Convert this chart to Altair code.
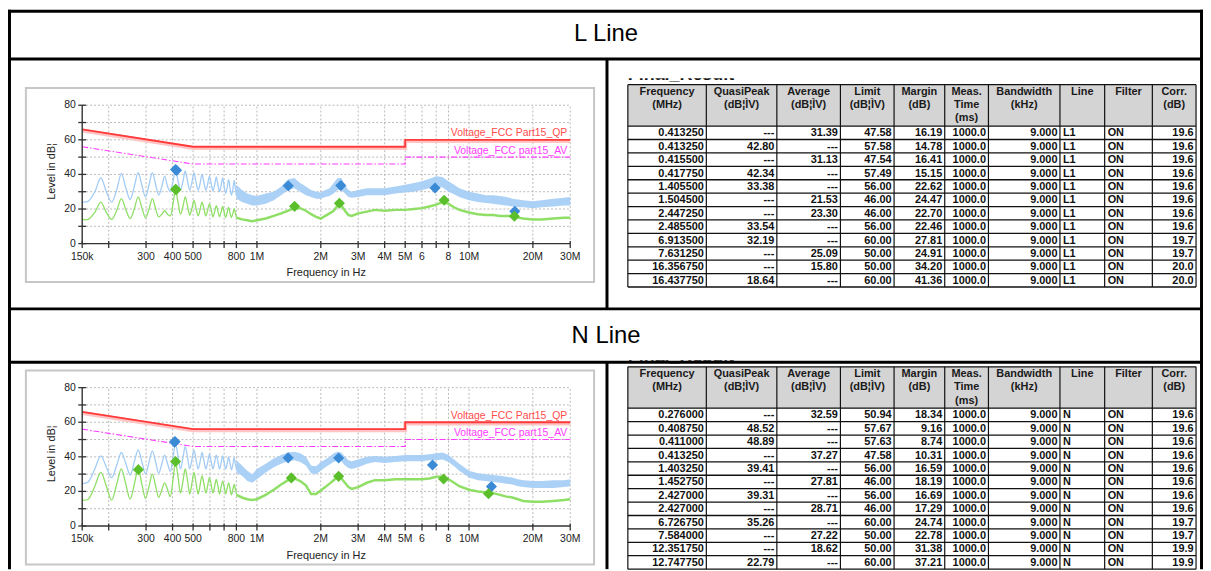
import altair as alt
import pandas as pd

# ====================== DATA ======================
# low-frequency part of the spectra (harmonic peaks), frequency in MHz
LOW_F = [0.150, 0.160, 0.172, 0.1836, 0.195, 0.2065, 0.218, 0.2295, 0.241, 0.2525,
         0.264, 0.2754, 0.287, 0.2984, 0.310, 0.3213, 0.333, 0.3443, 0.356, 0.3672,
         0.379, 0.3902, 0.402, 0.4131, 0.425, 0.4361, 0.448, 0.459, 0.471, 0.482,
         0.494, 0.505, 0.516, 0.528, 0.540, 0.551, 0.563, 0.574, 0.586, 0.597,
         0.609, 0.620, 0.632, 0.643, 0.655, 0.666, 0.678, 0.689, 0.701, 0.712,
         0.724, 0.735, 0.747, 0.758, 0.770, 0.781, 0.793, 0.800]

L_PK_LOW = [24, 24.5, 30, 38, 30, 24, 31, 40.5, 32, 25.5,
            33, 41, 33.5, 27, 34, 41, 34, 28, 33, 39,
            33, 30, 36, 42.5, 36, 31, 36, 42, 36, 31,
            35.5, 41, 35.5, 31, 35, 40, 35, 31, 34.5, 39,
            34.5, 30.5, 34, 38.5, 34, 30, 33.5, 38, 33, 29,
            32.5, 37, 32, 28, 31.5, 36.5, 31, 28]
L_AV_LOW = [14, 14, 18, 24, 18, 14, 19, 26, 19.5, 14.5,
            20, 27, 20.5, 15, 20, 26, 20, 15.5, 17, 19,
            17, 16, 23, 31, 23.5, 17, 21.5, 27, 21.5, 16.5,
            20.5, 25, 20.5, 16, 20, 24, 20, 16, 19.5, 23,
            19.5, 15.5, 18.5, 22, 18.5, 15.5, 18.5, 21.5, 18, 15,
            18, 21, 17.5, 15, 17.5, 20, 17, 15]
N_PK_LOW = [24.5, 25.5, 33, 40.5, 34, 28, 35, 42.5, 36, 29.5,
            37, 44, 37, 30, 37, 43.5, 37, 30.5, 36, 41,
            36, 31.5, 40, 47.5, 40, 33, 39.5, 46, 39.5, 33,
            38.5, 44, 38.5, 33, 37.5, 42.5, 37.5, 33, 37, 41.5,
            37, 33, 37, 41, 37, 33, 36.5, 40.5, 36.5, 33,
            36, 40, 36, 32.5, 35.5, 39.5, 35, 33]
N_AV_LOW = [15, 15.5, 23, 31, 23, 15, 24, 33, 24, 15.5,
            24, 33, 24, 16, 23, 30, 23, 16.5, 21, 25,
            21, 17, 27, 37, 28, 19, 26, 33, 26, 18.5,
            25, 31, 25, 18.5, 24, 29, 24, 19, 23.5, 28,
            23.5, 19, 23, 27, 23, 18.5, 22.5, 26, 22.5, 18.5,
            22, 25, 21.5, 18, 21, 24, 21, 18.5]

# high-frequency part (noisy band), frequency in MHz
HIGH_F = [0.80, 0.85, 0.90, 0.95, 1.0, 1.1, 1.2, 1.3, 1.4, 1.5,
          1.6, 1.7, 1.8, 1.9, 2.0, 2.1, 2.2, 2.3, 2.4, 2.5,
          2.6, 2.7, 2.8, 3.0, 3.3, 3.6, 4.0, 4.5, 5.0, 5.5,
          6.0, 6.5, 7.0, 7.5, 8.0, 8.5, 9.0, 10, 11, 12,
          13, 14, 15, 16, 17, 18, 20, 22, 25, 28, 30]
L_PK_HI_LO = [26, 24, 23, 22, 22, 23, 25, 28, 31, 32,
              30, 28, 27, 26, 26, 27, 27.5, 29, 31, 31,
              29, 27, 26.5, 27, 28, 28, 28, 29, 29.5, 30,
              31, 32, 33, 32.5, 30, 28.5, 27, 25, 24, 23.5,
              23, 22.5, 22, 21.5, 21, 21, 20.5, 21, 21.5, 22, 22]
L_PK_HI_UP = [34, 31, 29, 28, 27.5, 29, 30, 33, 37, 38,
              35, 33, 31, 30, 29.5, 31, 32, 35, 38, 38,
              34, 31, 30, 31, 32, 32, 32, 33, 34, 35,
              36, 37.5, 39, 38.5, 36, 34, 32, 30, 29, 28,
              28, 27.5, 27, 26, 25.5, 25, 24.5, 25, 26, 26.5, 27]
L_AV_HI = [15, 14, 13.5, 13, 13.5, 14.5, 16, 17.5, 19, 20.5,
           20.5, 19, 17, 15.5, 14.5, 16, 17.5, 19, 22, 22,
           19, 16.5, 16, 17.5, 18.5, 19.5, 19, 19.5, 19.5, 20,
           20.5, 21.5, 22.5, 24, 23, 21, 19.5, 18, 17, 16.5,
           16.5, 16, 16, 16, 15, 14.5, 14, 14, 14.5, 15, 15]
N_PK_HI_LO = [31, 29, 26, 25, 27, 31, 34, 36, 37.5, 38,
              37, 35, 30.5, 30, 32, 34, 35.5, 37, 38, 37.5,
              35, 33.5, 33, 34, 36, 37, 36.5, 37, 37.5, 37.5,
              37.5, 38, 38, 38.5, 37, 34.5, 32, 28, 26.5, 26,
              25.5, 25, 24.5, 24, 23, 22.5, 22, 22, 22, 22.5, 23]
N_PK_HI_UP = [38, 35, 32, 30, 33, 36, 39, 41, 42.5, 43,
              42, 40, 35, 34.5, 37, 38.5, 40, 42, 43, 42.5,
              40, 38, 37.5, 38.5, 40, 40.5, 40, 40.5, 41, 41,
              41, 41.5, 42, 42.5, 41, 38.5, 36, 32, 30.5, 30,
              29.5, 29, 28.5, 28, 27, 26.5, 26, 26, 26.5, 26.5, 27]
N_AV_HI = [18, 16.5, 15.5, 15, 15.5, 18, 21, 24, 26.5, 27.5,
           26, 23.5, 18.5, 18.5, 20.5, 22.5, 24.5, 26.5, 28.5, 27.5,
           25, 22.5, 21.5, 22.5, 25, 26.5, 26.5, 27, 27, 27,
           27, 27.5, 28.5, 28.5, 27, 25, 23, 21, 20, 19.5,
           19, 18, 17, 16.5, 15.5, 14.5, 14, 14, 14.5, 15, 15.5]

# limit lines
LIM_F = [0.15, 0.5, 5, 5, 30]
QP_LIM = [66, 56, 56, 60, 60]
AV_LIM = [56, 46, 46, 50, 50]

# axis ticks
X_TICKS = [0.15, 0.2, 0.3, 0.4, 0.5, 0.6, 0.7, 0.8, 1, 2, 3, 4, 5, 6, 7, 8, 10, 20, 30]
X_LABELS = ["150k", "", "300", "400", "500", "", "", "800", "1M", "2M", "3M", "4M",
            "5M", "6", "", "8", "10M", "20M", "30M"]
Y_TICKS = [0, 10, 20, 30, 40, 50, 60, 70, 80]
Y_LABELS = ["0", "", "20", "", "40", "", "60", "", "80"]

# tables
HEADERS = [["Frequency", "(MHz)"], ["QuasiPeak", "(dB¦ÌV)"], ["Average", "(dB¦ÌV)"],
           ["Limit", "(dB¦ÌV)"], ["Margin", "(dB)"], ["Meas.", "Time", "(ms)"],
           ["Bandwidth", "(kHz)"], ["Line"], ["Filter"], ["Corr.", "(dB)"]]

L_FREQ = ["0.413250", "0.413250", "0.415500", "0.417750", "1.405500", "1.504500",
          "2.447250", "2.485500", "6.913500", "7.631250", "16.356750", "16.437750"]
L_QP = ["---", "42.80", "---", "42.34", "33.38", "---", "---", "33.54", "32.19", "---", "---", "18.64"]
L_AV = ["31.39", "---", "31.13", "---", "---", "21.53", "23.30", "---", "---", "25.09", "15.80", "---"]
L_LIMIT = ["47.58", "57.58", "47.54", "57.49", "56.00", "46.00", "46.00", "56.00", "60.00", "50.00", "50.00", "60.00"]
L_MARGIN = ["16.19", "14.78", "16.41", "15.15", "22.62", "24.47", "22.70", "22.46", "27.81", "24.91", "34.20", "41.36"]
L_MEAS = ["1000.0"] * 12
L_BW = ["9.000"] * 12
L_LINE = ["L1"] * 12
L_FILTER = ["ON"] * 12
L_CORR = ["19.6"] * 8 + ["19.7", "19.7", "20.0", "20.0"]

N_FREQ = ["0.276000", "0.408750", "0.411000", "0.413250", "1.403250", "1.452750",
          "2.427000", "2.427000", "6.726750", "7.584000", "12.351750", "12.747750"]
N_QP = ["---", "48.52", "48.89", "---", "39.41", "---", "39.31", "---", "35.26", "---", "---", "22.79"]
N_AV = ["32.59", "---", "---", "37.27", "---", "27.81", "---", "28.71", "---", "27.22", "18.62", "---"]
N_LIMIT = ["50.94", "57.67", "57.63", "47.58", "56.00", "46.00", "56.00", "46.00", "60.00", "50.00", "50.00", "60.00"]
N_MARGIN = ["18.34", "9.16", "8.74", "10.31", "16.59", "18.19", "16.69", "17.29", "24.74", "22.78", "31.38", "37.21"]
N_MEAS = ["1000.0"] * 12
N_BW = ["9.000"] * 12
N_LINE = ["N"] * 12
N_FILTER = ["ON"] * 12
N_CORR = ["19.6"] * 8 + ["19.7", "19.7", "19.9", "19.9"]

for arr in (L_PK_LOW, L_AV_LOW, N_PK_LOW, N_AV_LOW):
    assert len(arr) == len(LOW_F)
for arr in (L_PK_HI_LO, L_PK_HI_UP, L_AV_HI, N_PK_HI_LO, N_PK_HI_UP, N_AV_HI):
    assert len(arr) == len(HIGH_F)

# ====================== LAYOUT / STYLE ======================
W, H = 1203, 563
FONT = "Arial, Liberation Sans, sans-serif"
PX0, PX1 = 74.7, 566.0
PLOT_H = 139.3
PLOT_TOPS = [96.0, 380.3]
COL_EDGES = [624, 703, 774, 838, 892, 943, 987, 1059, 1104, 1152, 1196]
TABLE_TOPS = [75.3, 359.3]
HEADER_H = 41.7
ROW_H = 13.5
BLUE_TR, GREEN_TR = "#a3ccf5", "#8fdf66"
BLUE_MK, GREEN_MK = "#3a8ad6", "#5abf2b"


def xs():
    return alt.Scale(type="log", domain=[0.15, 30], range=[PX0, PX1], nice=False)


def ys(top):
    return alt.Scale(domain=[0, 80], range=[top + PLOT_H, top], nice=False, zero=False)


def PXX(f):
    return alt.X(f"{f}:Q", scale=None)


def PXY(f):
    return alt.Y(f"{f}:Q", scale=None)


def plot_layers(top, pk_low, av_low, pk_lo, pk_up, av_hi, freq, qp, av):
    bottom = top + PLOT_H

    def X(f):
        return alt.X(f"{f}:Q", scale=xs(), axis=None)

    def Y(f):
        return alt.Y(f"{f}:Q", scale=ys(top), axis=None)

    L = []
    box = pd.DataFrame({"x": [18], "x2": [590], "y": [top - 17.3], "y2": [bottom + 38.7]})
    L.append(alt.Chart(box).mark_rect(fill="white", stroke="#c6c6c6", strokeWidth=2).encode(
        x=PXX("x"), x2=alt.X2("x2"), y=PXY("y"), y2=alt.Y2("y2")))

    vg = pd.DataFrame({"f": X_TICKS[1:], "a": 0, "b": 80})
    L.append(alt.Chart(vg).mark_rule(color="#b9b9b9", strokeWidth=1, strokeDash=[2, 2]).encode(
        x=X("f"), y=Y("a"), y2=alt.Y2("b")))
    hg = pd.DataFrame({"v": Y_TICKS[1:], "f0": 0.15, "f1": 30})
    L.append(alt.Chart(hg).mark_rule(color="#b9b9b9", strokeWidth=1, strokeDash=[2, 2]).encode(
        x=X("f0"), x2=alt.X2("f1"), y=Y("v")))

    lim = pd.DataFrame({"i": range(len(LIM_F)), "f": LIM_F, "qp": QP_LIM, "av": AV_LIM})
    L.append(alt.Chart(lim).mark_line(color="#ffc4c4", strokeWidth=4, yOffset=1.2).encode(
        x=X("f"), y=Y("qp"), order="i:Q"))
    L.append(alt.Chart(lim).mark_line(color="#ff3a3a", strokeWidth=1.8).encode(
        x=X("f"), y=Y("qp"), order="i:Q"))
    L.append(alt.Chart(lim).mark_line(color="#ff3cff", strokeWidth=1.1, strokeDash=[6, 2, 1.5, 2]).encode(
        x=X("f"), y=Y("av"), order="i:Q"))
    lab = pd.DataFrame({"f": [30], "qp": [60], "av": [50]})
    L.append(alt.Chart(lab).mark_text(text="Voltage_FCC Part15_QP", align="right", baseline="middle",
                                      font=FONT, fontSize=10.5, color="#ff4d4d", xOffset=-3, yOffset=-6.5).encode(
        x=X("f"), y=Y("qp")))
    L.append(alt.Chart(lab).mark_text(text="Voltage_FCC part15_AV", align="right", baseline="middle",
                                      font=FONT, fontSize=10.5, color="#ff3cff", xOffset=-3, yOffset=-6.5).encode(
        x=X("f"), y=Y("av")))

    low = pd.DataFrame({"f": LOW_F, "pk": pk_low, "av": av_low})
    hi = pd.DataFrame({"f": HIGH_F, "lo": pk_lo, "up": pk_up, "av": av_hi})
    L.append(alt.Chart(low).mark_line(color=BLUE_TR, strokeWidth=1.3, interpolate="catmull-rom").encode(
        x=X("f"), y=Y("pk")))
    L.append(alt.Chart(hi).mark_area(color=BLUE_TR, opacity=0.9, interpolate="linear").encode(
        x=X("f"), y=Y("lo"), y2=alt.Y2("up")))
    L.append(alt.Chart(low).mark_line(color=GREEN_TR, strokeWidth=1.3, interpolate="catmull-rom").encode(
        x=X("f"), y=Y("av")))
    L.append(alt.Chart(hi).mark_line(color=GREEN_TR, strokeWidth=2.5).encode(
        x=X("f"), y=Y("av")))

    qpm = pd.DataFrame([(float(f), float(q)) for f, q in zip(freq, qp) if q != "---"], columns=["f", "v"])
    avm = pd.DataFrame([(float(f), float(a)) for f, a in zip(freq, av) if a != "---"], columns=["f", "v"])
    L.append(alt.Chart(qpm).mark_point(shape="diamond", filled=True, size=125, color=BLUE_MK, opacity=1).encode(
        x=X("f"), y=Y("v")))
    L.append(alt.Chart(avm).mark_point(shape="diamond", filled=True, size=125, color=GREEN_MK, opacity=1).encode(
        x=X("f"), y=Y("v")))

    ax = pd.DataFrame({"f0": [0.15], "f1": [30], "a": [0], "b": [80]})
    L.append(alt.Chart(ax).mark_rule(color="#333333", strokeWidth=1.4).encode(
        x=X("f0"), x2=alt.X2("f1"), y=Y("a")))
    L.append(alt.Chart(ax).mark_rule(color="#333333", strokeWidth=1.4).encode(
        x=X("f0"), y=Y("a"), y2=alt.Y2("b")))
    xt = pd.DataFrame({"f": X_TICKS, "lab": X_LABELS, "z": 0})
    L.append(alt.Chart(xt).mark_tick(orient="vertical", size=7, thickness=1.3, color="#333333",
                                     opacity=1, yOffset=1).encode(x=X("f"), y=Y("z")))
    L.append(alt.Chart(xt).mark_text(font=FONT, fontSize=10.5, color="#222222", baseline="middle",
                                     yOffset=13.5).encode(x=X("f"), y=Y("z"), text="lab:N"))
    yt = pd.DataFrame({"v": Y_TICKS, "lab": Y_LABELS, "f": 0.15})
    L.append(alt.Chart(yt).mark_tick(orient="horizontal", size=8, thickness=1.3, color="#333333",
                                     opacity=1).encode(x=X("f"), y=Y("v")))
    L.append(alt.Chart(yt).mark_text(font=FONT, fontSize=10.5, color="#222222", baseline="middle",
                                     align="right", xOffset=-6.5).encode(x=X("f"), y=Y("v"), text="lab:N"))
    tt = pd.DataFrame({"f": [2.1213], "z": [0], "f0": [0.15], "m": [40]})
    L.append(alt.Chart(tt).mark_text(text="Frequency in Hz", font=FONT, fontSize=11, color="#222222",
                                     baseline="middle", yOffset=30).encode(x=X("f"), y=Y("z")))
    L.append(alt.Chart(tt).mark_text(text="Level in dB¦", font=FONT, fontSize=11, color="#222222",
                                     baseline="middle", angle=270, xOffset=-30, yOffset=-3).encode(
        x=X("f0"), y=Y("m")))
    return L


def table_layers(top, cols):
    n = len(cols[0])
    body_top = top + HEADER_H
    bottom = body_top + n * ROW_H
    L = []
    hdr = pd.DataFrame({"x": [COL_EDGES[0]], "x2": [COL_EDGES[-1]], "y": [top], "y2": [body_top]})
    L.append(alt.Chart(hdr).mark_rect(fill="#d4d4d4").encode(
        x=PXX("x"), x2=alt.X2("x2"), y=PXY("y"), y2=alt.Y2("y2")))
    hrows = []
    for c, lines in enumerate(HEADERS):
        cx = (COL_EDGES[c] + COL_EDGES[c + 1]) / 2
        for k, t in enumerate(lines):
            hrows.append({"x": cx, "y": top + 7.2 + 13.4 * k, "t": t})
    L.append(alt.Chart(pd.DataFrame(hrows)).mark_text(font=FONT, fontSize=11, fontWeight="bold",
                                                     color="#1a1a1a", baseline="middle").encode(
        x=PXX("x"), y=PXY("y"), text="t:N"))
    rscale = alt.Scale(domain=[0, n], range=[body_top, bottom], nice=False, zero=False)
    right_recs, left_recs = [], []
    for c in range(len(cols)):
        for r in range(n):
            if c in (7, 8):
                left_recs.append({"x": COL_EDGES[c] + 3, "r": r + 0.5, "t": cols[c][r]})
            else:
                right_recs.append({"x": COL_EDGES[c + 1] - 2.5, "r": r + 0.5, "t": cols[c][r]})
    for recs, al in ((right_recs, "right"), (left_recs, "left")):
        L.append(alt.Chart(pd.DataFrame(recs)).mark_text(font=FONT, fontSize=11, fontWeight="bold",
                                                         color="#111111", baseline="middle", align=al,
                                                         yOffset=0.5).encode(
            x=PXX("x"), y=alt.Y("r:Q", scale=rscale, axis=None), text="t:N"))
    vl = pd.DataFrame({"x": COL_EDGES, "y": top, "y2": bottom})
    L.append(alt.Chart(vl).mark_rule(color="#111111", strokeWidth=1.2).encode(
        x=PXX("x"), y=PXY("y"), y2=alt.Y2("y2")))
    hl = pd.DataFrame({"r": [-HEADER_H / ROW_H] + list(range(0, n + 1)),
                       "x": COL_EDGES[0], "x2": COL_EDGES[-1]})
    L.append(alt.Chart(hl).mark_rule(color="#111111", strokeWidth=1.3).encode(
        x=PXX("x"), x2=alt.X2("x2"), y=alt.Y("r:Q", scale=rscale, axis=None)))
    # partially hidden "Final_Result" caption above the table
    cap = pd.DataFrame({"x": [COL_EDGES[0]], "y": [top - 4.5]})
    L.append(alt.Chart(cap).mark_text(text="Final_Result", font=FONT, fontSize=18, fontWeight="bold",
                                      color="#111111", align="left", baseline="alphabetic").encode(
        x=PXX("x"), y=PXY("y")))
    cov = pd.DataFrame({"x": [COL_EDGES[0] - 4], "x2": [COL_EDGES[0] + 200], "y": [top - 23], "y2": [top - 6.5]})
    L.append(alt.Chart(cov).mark_rect(fill="white").encode(
        x=PXX("x"), x2=alt.X2("x2"), y=PXY("y"), y2=alt.Y2("y2")))
    return L


layers = []
layers += plot_layers(PLOT_TOPS[0], L_PK_LOW, L_AV_LOW, L_PK_HI_LO, L_PK_HI_UP, L_AV_HI, L_FREQ, L_QP, L_AV)
layers += plot_layers(PLOT_TOPS[1], N_PK_LOW, N_AV_LOW, N_PK_HI_LO, N_PK_HI_UP, N_AV_HI, N_FREQ, N_QP, N_AV)
layers += table_layers(TABLE_TOPS[0], [L_FREQ, L_QP, L_AV, L_LIMIT, L_MARGIN, L_MEAS, L_BW, L_LINE, L_FILTER, L_CORR])
layers += table_layers(TABLE_TOPS[1], [N_FREQ, N_QP, N_AV, N_LIMIT, N_MARGIN, N_MEAS, N_BW, N_LINE, N_FILTER, N_CORR])

# outer frame of the report table
frame = pd.DataFrame({
    "x":  [0, 1.5, 1201.5, 0, 0, 0, 603, 603],
    "x2": [W, 1.5, 1201.5, W, W, W, 603, 603],
    "y":  [1.5, 0, 0, 49.5, 301, 354.7, 49.5, 354.7],
    "y2": [1.5, H, H, 49.5, 301, 354.7, 301, H],
})
layers.append(alt.Chart(frame).mark_rule(color="black", strokeWidth=3).encode(
    x=PXX("x"), x2=alt.X2("x2"), y=PXY("y"), y2=alt.Y2("y2")))
heads = pd.DataFrame({"x": [602, 602], "y": [24, 328], "t": ["L Line", "N Line"]})
layers.append(alt.Chart(heads).mark_text(font=FONT, fontSize=24, color="black", baseline="middle").encode(
    x=PXX("x"), y=PXY("y"), text="t:N"))

chart = alt.layer(*layers).resolve_scale(x="independent", y="independent").properties(
    width=W, height=H, padding=0, background="white",
    autosize=alt.AutoSizeParams(type="none"),
).configure_view(stroke=None)

chart.save("out.html", embed_options={"renderer": "svg", "actions": False})
